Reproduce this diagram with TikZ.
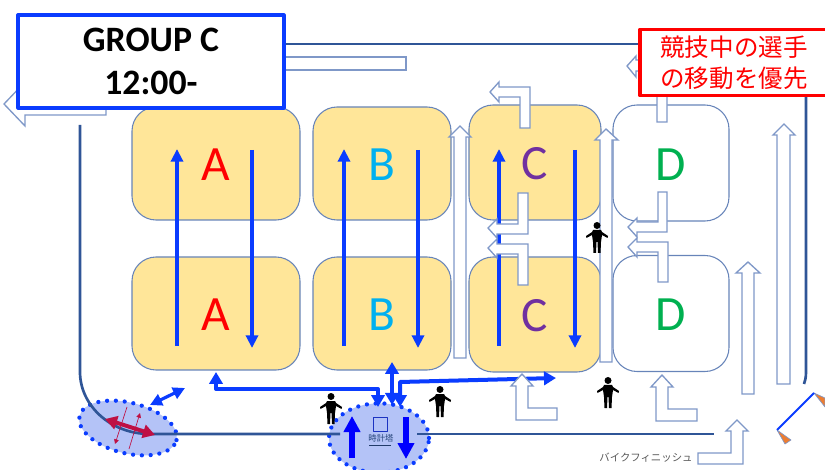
\documentclass[tikz,border=0pt]{standalone}
\usepackage{fontspec}
\setmainfont{Carlito}
\newfontfamily\jpfont{Noto Sans CJK JP}
\usetikzlibrary{arrows.meta,shapes.geometric}
\definecolor{roadblue}{HTML}{2F5597}
\definecolor{laneblue}{HTML}{7F98C8}
\definecolor{flowblue}{HTML}{0A3CFF}
\definecolor{padyellow}{HTML}{FFE699}
\definecolor{zonefill}{HTML}{B4C3F7}
\definecolor{crossred}{HTML}{BE1044}
\definecolor{coneorange}{HTML}{ED7D31}
\tikzset{
  pad/.style={draw=laneblue!70!roadblue,line width=0.8pt,rounded corners=18pt,inner sep=0pt,text height=26pt,font=\fontsize{37}{40}\selectfont},
  road/.style={draw=roadblue,line width=2pt},
  lane/.style={draw=laneblue,fill=white,line width=1pt,line join=miter},
  flow/.style={draw=flowblue,line width=2.9pt,-{Triangle[length=9.5pt,width=9pt]}},
  link/.style={draw=flowblue,line width=3pt},
  zone/.style={ellipse,fill=zonefill,draw=flowblue,line width=3.2pt,line cap=round,dash pattern=on 0pt off 6.6pt,inner sep=0pt},
  person/.pic={\fill[black] (0,3.5) circle (3.5);
    \fill[black] (-4,8) -- (4,8) -- (5,10) -- (11,14) -- (10.5,16) -- (5,13) -- (4,20) -- (3.5,31) -- (1,31) -- (0.5,20) -- (-0.5,20) -- (-1,31) -- (-3.5,31) -- (-4,20) -- (-5,13) -- (-10.5,16) -- (-11,14) -- (-5,10) -- cycle;}
}
\begin{document}
\begin{tikzpicture}[x=0.75pt,y=-0.75pt,line join=round]
\useasboundingbox (0,0) rectangle (825,470);
\clip (0,0) rectangle (825,470);
% practice areas
\node[pad,fill=padyellow,minimum width=126pt,minimum height=84.75pt,text=red] (padA1) at (216,163.5) {A};
\node[pad,fill=padyellow,minimum width=126pt,minimum height=84.75pt,text=red] (padA2) at (216,313.5) {A};
\node[pad,fill=padyellow,minimum width=103.5pt,minimum height=84.75pt,text={rgb,255:red,0;green,176;blue,240}] (padB1) at (382,163.5) {B};
\node[pad,fill=padyellow,minimum width=103.5pt,minimum height=84.75pt,text={rgb,255:red,0;green,176;blue,240}] (padB2) at (382,313.5) {B};
\node[pad,fill=padyellow,minimum width=99pt,minimum height=86.25pt,text={rgb,255:red,112;green,48;blue,160}] (padC1) at (535,162.5) {C};
\node[pad,fill=padyellow,minimum width=99pt,minimum height=86.25pt,text={rgb,255:red,112;green,48;blue,160}] (padC2) at (535,314.5) {C};
\node[pad,minimum width=87pt,minimum height=87pt,text={rgb,255:red,0;green,176;blue,80}] (padD1) at (671,163) {D};
\node[pad,minimum width=87pt,minimum height=87pt,text={rgb,255:red,0;green,176;blue,80}] (padD2) at (671,313.5) {D};
% riding directions
\coordinate (aS) at (177,346);
\coordinate (aN) at (177,149);
\coordinate (a2N) at (252,150);
\coordinate (a2S) at (252,348);
\coordinate (bS) at (344,346);
\coordinate (bN) at (344,149);
\coordinate (b2N) at (418,150);
\coordinate (b2S) at (418,348);
\coordinate (cS) at (499,346);
\coordinate (cN) at (499,149);
\coordinate (c2N) at (575,150);
\coordinate (c2S) at (575,348);
\draw[flow] (aS) -- (aN);
\draw[flow] (a2N) -- (a2S);
\draw[flow] (bS) -- (bN);
\draw[flow] (b2N) -- (b2S);
\draw[flow] (cS) -- (cN);
\draw[flow] (c2N) -- (c2S);
% zones on the road
\node[zone,minimum width=75pt,minimum height=38pt,rotate=-14] (zoneL) at (128,428) {};
\node[zone,minimum width=75pt,minimum height=52pt] (zoneT) at (379,438) {};
% road
\coordinate (roadA) at (80,125);
\coordinate (roadB) at (80,372);
\coordinate (roadC) at (150,434);
\coordinate (roadD) at (340,434);
\coordinate (roadE) at (417,434);
\coordinate (roadF) at (714,434);
\coordinate (roadG) at (284,44);
\coordinate (roadH) at (645,44);
\coordinate (roadI) at (806,94);
\coordinate (roadJ) at (806,372);
\coordinate (roadK) at (804,384);
\draw[road] (roadA) -- (roadB) .. controls (80,405) and (110,434) .. (roadC) -- (roadD);
\draw[road] (roadE) -- (roadF);
\draw[road] (roadG) -- (roadH);
\draw[road] (roadI) -- (roadJ) .. controls (806,378) and (805,381) .. (roadK);
% links to the paddock
\coordinate (linkA) at (216,372);
\coordinate (linkB) at (216,389);
\coordinate (linkC) at (378,389);
\coordinate (linkD) at (378,407);
\coordinate (linkE) at (392,362);
\coordinate (linkF) at (392,405);
\coordinate (linkG) at (400,407);
\coordinate (linkH) at (400,382);
\coordinate (linkI) at (556,378);
\draw[link,{Triangle[length=9pt,width=10pt]}-{Triangle[length=9pt,width=10pt]}] (linkA) -- (linkB) -- (linkC) -- (linkD);
\draw[link,{Triangle[length=9pt,width=10pt]}-{Triangle[length=9pt,width=10pt]}] (linkE) -- (linkF);
\draw[link,{Triangle[length=9pt,width=10pt]}-{Triangle[length=9pt,width=10pt]}] (linkG) -- (linkH) -- (linkI);
\coordinate (swingA) at (150,405);
\coordinate (swingB) at (185,388);
\draw[link,line width=2.4pt,{Triangle[length=9pt,width=9pt]}-{Triangle[length=9pt,width=9pt]}] (swingA) -- (swingB);
% crossing inside the left zone
\coordinate (crossA) at (105,419);
\coordinate (crossB) at (155,435);
\coordinate (crossC) at (127,407);
\coordinate (crossD) at (115,444);
\coordinate (crossE) at (129,449);
\coordinate (crossF) at (140,413);
\draw[crossred,line width=3pt,{Triangle[length=9pt,width=10pt]}-{Triangle[length=9pt,width=10pt]}] (crossA) -- (crossB);
\draw[crossred,line width=0.5pt,-{Triangle[length=3.5pt,width=3.5pt]}] (crossC) -- (crossD);
\draw[crossred,line width=0.5pt,-{Triangle[length=3.5pt,width=3.5pt]}] (crossE) -- (crossF);
% inside the clock zone
\coordinate (upA) at (352,458);
\coordinate (upB) at (352,416);
\coordinate (downA) at (406,417);
\coordinate (downB) at (406,459);
\draw[draw=blue,line width=3.8pt,-{Triangle[length=12pt,width=12pt]}] (upA) -- (upB);
\draw[draw=blue,line width=3.8pt,-{Triangle[length=12pt,width=12pt]}] (downA) -- (downB);
\node[draw=roadblue!60!blue,line width=0.6pt,minimum width=11pt,minimum height=11pt,inner sep=0pt] (clock) at (380.5,424.5) {};
\node[inner sep=0pt,text=roadblue!80!black,font=\jpfont\fontsize{6.3}{7}\selectfont] (clockname) at (381,438) {時計塔};
\coordinate (clockA) at (369,445);
\coordinate (clockB) at (391,445);
\draw[roadblue!70!black,line width=0.7pt] (clockA) -- (clockB);
% white lane arrows
\draw[lane] (460,126) -- (471,137) -- (466,137) -- (466,358) -- (454,358) -- (454,137) -- (449,137) -- cycle;
\draw[lane] (606,129) -- (618,140) -- (612,140) -- (612,362) -- (600,362) -- (600,140) -- (595,140) -- cycle;
\draw[lane] (748,262) -- (760,273) -- (754,273) -- (754,394) -- (742,394) -- (742,273) -- (736,273) -- cycle;
\draw[lane] (784,124) -- (795,135) -- (790,135) -- (790,384) -- (777,384) -- (777,135) -- (773,135) -- cycle;
\draw[lane] (200,57) rectangle (406,70);
\draw[lane] (4,104) -- (25,82) -- (25,93) -- (106,93) -- (106,115) -- (25,115) -- (25,126) -- cycle;
\draw[lane] (627,66) -- (636,56) -- (636,60) -- (667,60) -- (667,122) -- (657,122) -- (657,71) -- (636,71) -- (636,77) -- cycle;
\draw[lane] (490,92) -- (499,82) -- (499,87) -- (530,87) -- (530,128) -- (520,128) -- (520,97) -- (499,97) -- (499,102) -- cycle;
\draw[lane] (488,228) -- (497,219) -- (497,224) -- (518,224) -- (518,193) -- (528,193) -- (528,234) -- (497,234) -- (497,238) -- cycle;
\draw[lane] (488,248) -- (497,239) -- (497,244) -- (528,244) -- (528,285) -- (518,285) -- (518,254) -- (497,254) -- (497,258) -- cycle;
\draw[lane] (628,227) -- (637,218) -- (637,222) -- (658,222) -- (658,192) -- (667,192) -- (667,232) -- (637,232) -- (637,237) -- cycle;
\draw[lane] (628,247) -- (637,238) -- (637,242) -- (668,242) -- (668,282) -- (658,282) -- (658,252) -- (637,252) -- (637,257) -- cycle;
\draw[lane] (522,374) -- (533,386) -- (528,386) -- (528,408) -- (557,408) -- (557,420) -- (516,420) -- (516,386) -- (511,386) -- cycle;
\draw[lane] (662,375) -- (673,387) -- (668,387) -- (668,409) -- (697,409) -- (697,421) -- (656,421) -- (656,387) -- (651,387) -- cycle;
\draw[lane] (737,420) -- (748,431) -- (743,431) -- (743,464) -- (698,464) -- (698,453) -- (731,453) -- (731,431) -- (726,431) -- cycle;
% people
\pic at (331,393) {person};
\pic at (440,386) {person};
\pic at (608,377) {person};
\pic at (597,222) {person};
% cones
\coordinate (coneA) at (777,430);
\coordinate (coneB) at (814,393);
\fill[coneorange,draw=laneblue,line width=0.5pt] (coneA) -- (791,440) -- (785,444) -- cycle;
\fill[coneorange,draw=laneblue,line width=0.5pt] (coneB) -- (825,398) -- (825,407) -- cycle;
\draw[flowblue,line width=1.5pt] (coneA) -- (coneB);
% labels
\node[inner sep=0pt,text=black!65,font=\jpfont\fontsize{7.8}{9}\selectfont] (finish) at (646,458) {バイクフィニッシュ};
\node[draw=flowblue,fill=white,line width=2.4pt,minimum width=199.5pt,minimum height=69.75pt,inner sep=0pt,align=center,font=\bfseries\fontsize{26.8}{32.5}\selectfont] (groupbox) at (151,61.5) {GROUP C\\12:00-};
\node[draw=red,fill=white,line width=2.4pt,minimum width=141pt,minimum height=50pt,inner sep=0pt,align=center,text=red,font=\jpfont\fontsize{18.4}{23.2}\selectfont] (notebox) at (734,62.5) {競技中の選手\\の移動を優先};
\end{tikzpicture}
\end{document}
